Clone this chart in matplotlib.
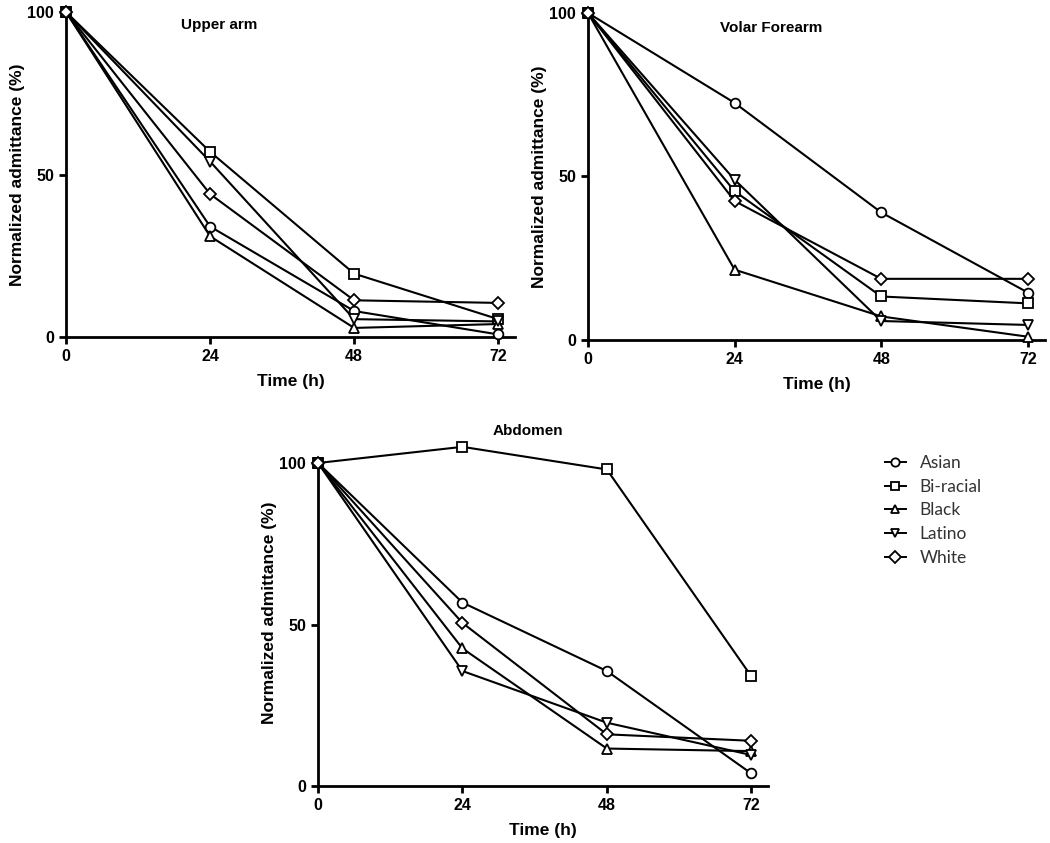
import matplotlib
matplotlib.use('Agg')
import matplotlib.pyplot as plt
from matplotlib.lines import Line2D

plt.rcParams['font.family'] = ['Liberation Sans', 'DejaVu Sans']

hours = [0, 24, 48, 72]
groups = ['Asian', 'Bi-racial', 'Black', 'Latino', 'White']
markers = {'Asian': 'o', 'Bi-racial': 's', 'Black': '^', 'Latino': 'v', 'White': 'D'}

upper_arm = {
    'Asian': [100, 34, 8, 0.8],
    'Bi-racial': [100, 57, 19.5, 5.5],
    'Black': [100, 31, 2.8, 4],
    'Latino': [100, 54, 5.5, 4.8],
    'White': [100, 44, 11.3, 10.5],
}
volar_forearm = {
    'Asian': [100, 72.5, 39, 14.5],
    'Bi-racial': [100, 45.5, 13.3, 11.2],
    'Black': [100, 21.5, 7.2, 1],
    'Latino': [100, 49, 5.8, 4.6],
    'White': [100, 42.5, 18.7, 18.7],
}
abdomen = {
    'Asian': [100, 56.8, 35.6, 3.9],
    'Bi-racial': [100, 105, 98, 34],
    'Black': [100, 42.6, 11.6, 10.8],
    'Latino': [100, 35.6, 19.6, 9.6],
    'White': [100, 50.5, 16, 14],
}


def make_panel(fig, rect, data, title, ytop, title_x, title_y):
    ax = fig.add_axes(rect)
    for g in groups:
        ms = 6 if markers[g] == 'D' else 7
        ax.plot(hours, data[g], color='black', lw=1.5, marker=markers[g],
                ms=ms, mfc='white', mec='black', mew=1.3, clip_on=False,
                zorder=3)
    ax.set_xlim(0, 74.8)
    ax.set_ylim(0, ytop)
    ax.set_xticks(hours)
    ax.set_yticks([0, 50, 100])
    for s in ['top', 'right']:
        ax.spines[s].set_visible(False)
    for s in ['left', 'bottom']:
        ax.spines[s].set_linewidth(2)
    ax.spines['left'].set_bounds(0, 100)
    ax.tick_params(direction='out', length=5, width=2, labelsize=11.5)
    for lab in ax.get_xticklabels() + ax.get_yticklabels():
        lab.set_fontweight('bold')
    ax.set_xlabel('Time (h)', fontsize=12.5, fontweight='bold', labelpad=7)
    ax.set_ylabel('Normalized admittance (%)', fontsize=12.5,
                  fontweight='bold', labelpad=2)
    # title: x in axes fraction, y in data units
    ax.text(title_x, title_y, title, transform=ax.get_yaxis_transform(),
            ha='center', va='center', fontsize=11, fontweight='bold')
    return ax


fig = plt.figure(figsize=(10.5, 8.43), dpi=100)

make_panel(fig, [0.0629, 0.6002, 0.4276, 0.3855], upper_arm, 'Upper arm',
           100, 0.34, 96)
make_panel(fig, [0.56, 0.5967, 0.4352, 0.3879], volar_forearm,
           'Volar Forearm', 100, 0.40, 95.5)
make_panel(fig, [0.3029, 0.0676, 0.4286, 0.4100], abdomen, 'Abdomen',
           107, 0.467, 110)

handles = [Line2D([0], [0], color='black', lw=1.4, marker=markers[g],
                  ms=6, mfc='white', mec='black', mew=1.3) for g in groups]
leg = fig.legend(handles, groups, loc='upper left',
                 bbox_to_anchor=(0.828, 0.479), frameon=False,
                 handlelength=1.2, labelspacing=0.45,
                 prop={'family': 'Lato', 'size': 12.5})
for t in leg.get_texts():
    t.set_color('#333333')

fig.savefig('out.png', dpi=100)
